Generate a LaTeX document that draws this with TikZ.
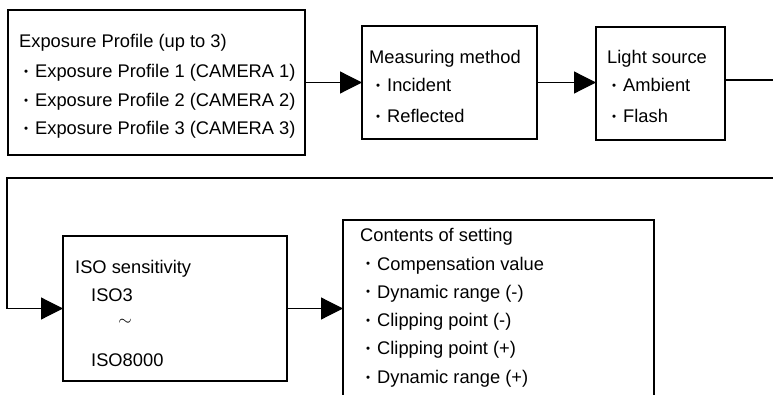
\documentclass[tikz,border=0pt]{standalone}
\usepackage{fontspec}
\setmainfont{Liberation Sans}
\usetikzlibrary{arrows.meta}
\newcommand{\bul}{\makebox[12pt][l]{\kern1pt\raisebox{2pt}{\fontsize{11.5}{12}\selectfont •}}}
\begin{document}
\begin{tikzpicture}[x=1pt,y=-1pt,
  box/.style={draw,line width=1.2pt,inner sep=0pt,outer sep=0pt},
  txt/.style={anchor=base west,inner sep=0pt,font=\fontsize{18.3}{20}\selectfont},
  bl/.style={txt},
  conn/.style={line width=1.2pt},
  arr/.style={conn,-{Triangle[length=22pt,width=22pt]}}]
\useasboundingbox (0,0) rectangle (773,395);
% boxes
\node[box,minimum width=297pt,minimum height=145pt] (b1) at (156.5,82.5) {};
\node[box,minimum width=175pt,minimum height=113pt] (b2) at (449.5,82.5) {};
\node[box,minimum width=129pt,minimum height=113pt] (b3) at (660.5,83.5) {};
\node[box,minimum width=224pt,minimum height=145pt] (iso) at (175,308.5) {};
\coordinate (cbl) at (343,400);
\coordinate (ctl) at (343,220);
\coordinate (ctr) at (654,220);
\coordinate (cbr) at (654,400);
\draw[line width=1.2pt] (cbl) -- (ctl) -- (ctr) -- (cbr);
% texts box1
\node[txt] (t11) at (19,48) {Exposure Profile (up to 3)};
\node[bl] (t12) at (23,78) {\bul Exposure Profile 1 (CAMERA 1)};
\node[bl] (t13) at (23,106.5) {\bul Exposure Profile 2 (CAMERA 2)};
\node[bl] (t14) at (23,135) {\bul Exposure Profile 3 (CAMERA 3)};
% box2
\node[txt] (t21) at (369,64) {Measuring method};
\node[bl] (t22) at (375,92) {\bul Incident};
\node[bl] (t23) at (375,123) {\bul Reflected};
% box3
\node[txt] (t31) at (607,64) {Light source};
\node[bl] (t32) at (611,92) {\bul Ambient};
\node[bl] (t33) at (611,123) {\bul Flash};
% iso
\node[txt] (t41) at (75,273) {ISO sensitivity};
\node[txt] (t42) at (91,301) {ISO3};
\node[inner sep=0pt,font=\fontsize{18.3}{20}\selectfont] (t43) at (125,322) {$\sim$};
\node[txt] (t44) at (91,366) {ISO8000};
% contents
\node[txt] (t51) at (360,242) {Contents of setting};
\node[bl] (t52) at (365,270) {\bul Compensation value};
\node[bl] (t53) at (365,298) {\bul Dynamic range (-)};
\node[bl] (t54) at (365,326) {\bul Clipping point (-)};
\node[bl] (t55) at (365,354) {\bul Clipping point (+)};
\node[bl] (t56) at (365,383) {\bul Dynamic range (+)};
% connectors
\draw[arr] (b1.east) -- (b2.west);
\draw[arr] (b2.east) -- (b2.east -| b3.west);
\coordinate (r1) at (773,80);
\draw[conn] (b3.east |- r1) -- (r1);
\coordinate (r2) at (773,178);
\coordinate (l1) at (7,178);
\draw[arr] (r2) -- (l1) |- (iso.west);
\draw[arr] (iso.east) -- (iso.east -| ctl);
\end{tikzpicture}
\end{document}
